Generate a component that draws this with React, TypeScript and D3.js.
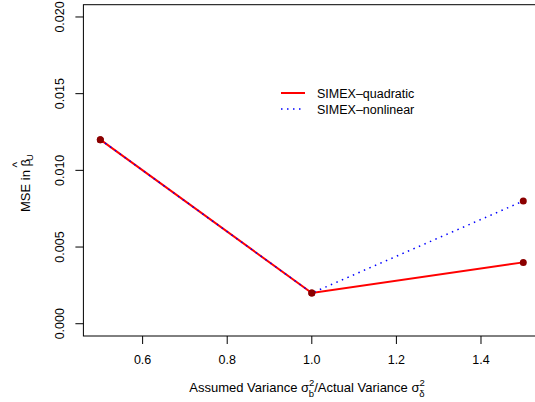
import React from "react";
import * as d3 from "d3";

const ratios = [0.5, 1.0, 1.5];
const quadraticMSE = [0.012, 0.002, 0.004];
const nonlinearMSE = [0.012, 0.002, 0.008];
const xTicks = [0.6, 0.8, 1.0, 1.2, 1.4];
const yTicks = [0.0, 0.005, 0.01, 0.015, 0.02];
const legendLabels = ["SIMEX\u2013quadratic", "SIMEX\u2013nonlinear"];

const W = 535;
const H = 402;
const FONT = "'Liberation Sans', Arial, Helvetica, sans-serif";

export default function App() {
  // plot region with R-style 4% axis padding
  const x = d3.scaleLinear().domain([0.46, 1.54]).range([83.4, 540.2]);
  const y = d3.scaleLinear().domain([-0.0008, 0.0208]).range([336, 4.7]);

  const line = d3
    .line<number>()
    .x((_, i) => x(ratios[i]))
    .y((d) => y(d));

  const left = x.range()[0];
  const right = x.range()[1];
  const top = y.range()[1];
  const bottom = y.range()[0];

  return (
    <svg
      width={W}
      height={H}
      style={{ position: "absolute", left: 0, top: 0, background: "#fff" }}
      fontFamily={FONT}
    >
      {/* plot frame */}
      <rect
        x={left}
        y={top}
        width={right - left}
        height={bottom - top}
        fill="none"
        stroke="#000"
        strokeWidth={1}
      />

      {/* x axis */}
      {xTicks.map((t) => (
        <g key={`xt${t}`}>
          <line x1={x(t)} x2={x(t)} y1={bottom} y2={bottom + 8} stroke="#000" />
          <text x={x(t)} y={bottom + 28} textAnchor="middle" fontSize={12.5}>
            {t.toFixed(1)}
          </text>
        </g>
      ))}

      {/* y axis */}
      {yTicks.map((t) => (
        <g key={`yt${t}`}>
          <line x1={left} x2={left - 8} y1={y(t)} y2={y(t)} stroke="#000" />
          <text
            transform={`translate(${left - 19},${y(t)}) rotate(-90)`}
            textAnchor="middle"
            fontSize={12.5}
          >
            {t.toFixed(3)}
          </text>
        </g>
      ))}

      {/* axis titles */}
      <text x={307} y={392} textAnchor="middle" fontSize={13}>
        <tspan>Assumed Variance </tspan>
        <tspan>σ</tspan>
        <tspan fontSize={9.5} dy={-6}>2</tspan>
        <tspan fontSize={9.5} dy={11} dx={-5.5}>b</tspan>
        <tspan dy={-5}>/Actual Variance </tspan>
        <tspan>σ</tspan>
        <tspan fontSize={9.5} dy={-6}>2</tspan>
        <tspan fontSize={9.5} dy={11} dx={-5.5}>δ</tspan>
      </text>

      <text
        transform="translate(30,183) rotate(-90)"
        textAnchor="middle"
        fontSize={13}
      >
        <tspan>MSE in </tspan>
        <tspan>β</tspan>
        <tspan fontSize={12} dx={-8.5} dy={-9}>^</tspan>
        <tspan fontSize={9.5} dx={1} dy={12}>U</tspan>
      </text>

      {/* series */}
      <path
        d={line(quadraticMSE) || ""}
        fill="none"
        stroke="#ff0000"
        strokeWidth={2}
      />
      <path
        d={line(nonlinearMSE) || ""}
        fill="none"
        stroke="#0000ff"
        strokeWidth={1.5}
        strokeDasharray="1.5,4.5"
      />

      {/* points */}
      {[quadraticMSE, nonlinearMSE].map((s, si) =>
        s.map((v, i) => (
          <circle
            key={`p${si}-${i}`}
            cx={x(ratios[i])}
            cy={y(v)}
            r={3.5}
            fill="#8b0000"
          />
        ))
      )}

      {/* legend */}
      <line x1={281} x2={305} y1={93} y2={93} stroke="#ff0000" strokeWidth={2} />
      <text x={317} y={97.5} fontSize={12.5}>
        {legendLabels[0]}
      </text>
      <line
        x1={281}
        x2={305}
        y1={109}
        y2={109}
        stroke="#0000ff"
        strokeWidth={1.5}
        strokeDasharray="1.5,4.5"
      />
      <text x={317} y={113.5} fontSize={12.5}>
        {legendLabels[1]}
      </text>
    </svg>
  );
}
